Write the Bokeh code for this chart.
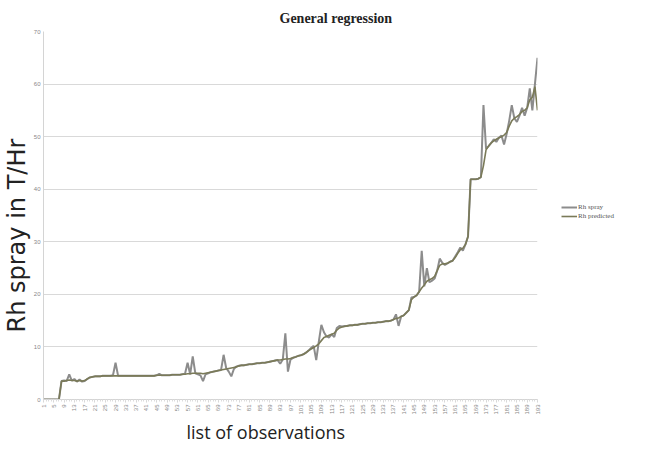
from bokeh.plotting import figure
from bokeh.models import Range1d, FixedTicker, Legend, LegendItem, ColumnDataSource, Title
from bokeh.embed import file_html
from bokeh.resources import INLINE

# ---- data ----
observations = list(range(1, 194))
x_tick_labels = list(range(1, 194, 4))
y_ticks = [0, 10, 20, 30, 40, 50, 60, 70]

rh_spray = [
    0, 0, 0, 0, 0, 0, 0,
    3.5, 3.6, 3.5, 4.8, 3.6, 3.9, 3.4, 3.8, 3.4, 3.5, 3.9, 4.2, 4.3,
    4.4, 4.4, 4.4, 4.5, 4.5, 4.5, 4.5, 4.6, 7.0, 4.5,
    4.5, 4.5, 4.5, 4.5, 4.5, 4.5, 4.5, 4.5, 4.5, 4.5,
    4.5, 4.5, 4.5, 4.5, 4.6, 4.9, 4.6, 4.6, 4.6, 4.6,
    4.7, 4.7, 4.7, 4.7, 4.8, 4.9, 7.0, 4.8, 8.2, 5.0,
    4.8, 4.6, 3.5, 4.8, 5.0, 5.2, 5.3, 5.4, 5.5, 5.6,
    8.5, 6.0, 5.3, 4.4, 5.8, 6.3, 6.4, 6.5, 6.5, 6.6,
    6.7, 6.7, 6.8, 6.9, 6.9, 7.0, 7.0, 7.1, 7.2, 7.3,
    7.4, 7.5, 6.8, 7.6, 12.6, 5.3, 7.6, 7.9, 8.1, 8.3,
    8.4, 8.6, 8.9, 9.3, 9.8, 10.2, 7.5, 11.0, 14.2, 12.8,
    12.0, 11.8, 12.4, 11.9, 13.6, 14.0, 13.9, 14.0, 14.0, 14.1,
    14.1, 14.2, 14.2, 14.3, 14.4, 14.4, 14.5, 14.5, 14.6, 14.6,
    14.7, 14.7, 14.8, 14.9, 14.9, 15.0, 15.2, 16.2, 14.0, 15.8,
    16.0, 16.5, 17.0, 19.4, 19.5, 19.8, 20.5, 28.3, 21.5, 25.0,
    22.3, 22.6, 23.0, 24.5, 26.8, 26.0, 25.6, 25.9, 26.2, 26.4,
    27.2, 28.0, 28.9, 28.3, 29.5, 31.0, 41.9, 41.9, 41.9, 42.0,
    42.3, 56.0, 47.7, 48.2, 48.8, 49.5, 49.0, 49.8, 50.2, 48.5,
    50.5, 53.0, 56.0, 53.5, 52.8, 54.0, 55.5, 54.0, 55.5, 59.2,
    55.0, 60.0, 65.0,
]

rh_predicted = [
    0, 0, 0, 0, 0, 0, 0,
    3.5, 3.5, 3.6, 3.7, 3.6, 3.6, 3.5, 3.6, 3.5, 3.6, 3.9, 4.2, 4.3,
    4.4, 4.4, 4.4, 4.5, 4.5, 4.5, 4.5, 4.5, 4.5, 4.5,
    4.5, 4.5, 4.5, 4.5, 4.5, 4.5, 4.5, 4.5, 4.5, 4.5,
    4.5, 4.5, 4.5, 4.5, 4.6, 4.6, 4.6, 4.6, 4.6, 4.6,
    4.7, 4.7, 4.7, 4.7, 4.8, 4.8, 4.9, 4.9, 5.0, 5.0,
    5.0, 5.0, 4.9, 5.0, 5.1, 5.2, 5.3, 5.4, 5.5, 5.6,
    5.7, 5.8, 5.9, 6.0, 6.1, 6.2, 6.4, 6.5, 6.5, 6.6,
    6.7, 6.7, 6.8, 6.9, 6.9, 7.0, 7.0, 7.1, 7.2, 7.3,
    7.4, 7.5, 7.5, 7.6, 7.7, 7.7, 7.8, 8.0, 8.1, 8.3,
    8.4, 8.6, 8.9, 9.3, 9.6, 9.9, 10.2, 10.6, 11.2, 11.8,
    12.0, 12.2, 12.4, 12.6, 13.2, 13.6, 13.8, 13.9, 14.0, 14.1,
    14.1, 14.2, 14.2, 14.3, 14.4, 14.4, 14.5, 14.5, 14.6, 14.6,
    14.7, 14.7, 14.8, 14.9, 14.9, 15.0, 15.2, 15.4, 15.5, 15.8,
    16.0, 16.5, 17.0, 19.0, 19.5, 19.8, 20.5, 21.2, 21.8, 22.5,
    22.8, 23.0, 23.4, 24.5, 25.5, 25.8, 25.8, 25.9, 26.2, 26.4,
    27.0, 27.8, 28.5, 28.8, 29.5, 31.0, 41.9, 41.9, 41.9, 42.0,
    42.3, 44.5, 47.5, 48.2, 48.8, 49.2, 49.5, 49.8, 50.0, 50.3,
    50.8, 52.0, 53.0, 53.5, 53.8, 54.2, 54.8, 55.0, 55.5, 57.0,
    57.5, 59.5, 55.0,
]

series_names = ["Rh spray", "Rh predicted"]

source = ColumnDataSource(data=dict(x=observations, spray=rh_spray, pred=rh_predicted))

p = figure(frame_width=494, frame_height=368, output_backend="svg", toolbar_location=None,
           x_range=Range1d(1, len(observations)), y_range=Range1d(0, 70),
           min_border_left=39, min_border_right=105, min_border_top=31, min_border_bottom=0)

p.outline_line_color = None
p.background_fill_color = "white"

# title
p.title.text = "General regression"
p.title.text_font = "Liberation Serif"
p.title.text_font_size = "14px"
p.title.text_font_style = "bold"
p.title.text_color = "#222222"
p.title.align = "left"
p.title.offset = 236
p.title.standoff = 11

# lines
r_spray = p.line("x", "spray", source=source, line_color="#8c8c8c", line_width=2)
r_pred = p.line("x", "pred", source=source, line_color="#7a7a58", line_width=1.6)

# y axis
p.yaxis.ticker = FixedTicker(ticks=y_ticks)
p.yaxis.major_label_text_font_size = "6px"
p.yaxis.major_label_text_color = "#888888"
p.yaxis.major_label_standoff = 3
p.yaxis.axis_line_color = "#d4d4d4"
p.yaxis.major_tick_line_color = None
p.yaxis.major_tick_out = 0
p.yaxis.major_tick_in = 0
p.yaxis.minor_tick_line_color = None
p.yaxis.minor_tick_out = 0
p.yaxis.minor_tick_in = 0

ylab = Title(text="Rh spray in T/Hr", align="left", offset=67, standoff=0,
             text_font="DejaVu Sans", text_font_size="24px", text_font_style="normal",
             text_color="#222222")
p.add_layout(ylab, "left")

# x axis
p.xaxis.ticker = FixedTicker(ticks=x_tick_labels, minor_ticks=observations)
p.xaxis.major_label_orientation = 1.5708
p.xaxis.major_label_text_font_size = "6px"
p.xaxis.major_label_text_color = "#888888"
p.xaxis.major_label_standoff = 2
p.xaxis.axis_line_color = "#d4d4d4"
p.xaxis.major_tick_line_color = "#d4d4d4"
p.xaxis.major_tick_out = 3
p.xaxis.major_tick_in = 0
p.xaxis.minor_tick_line_color = "#dcdcdc"
p.xaxis.minor_tick_out = 2
p.xaxis.minor_tick_in = 0

xlab = Title(text="list of observations", align="left", offset=143, standoff=0,
             text_font="Open Sans", text_font_size="18px", text_font_style="normal",
             text_color="#222222")
p.add_layout(xlab, "below")

# grid
p.xgrid.grid_line_color = None
p.ygrid.grid_line_color = "#d9d9d9"
p.ygrid.grid_line_width = 1

# legend to the right of the plot area
legend = Legend(items=[LegendItem(label=series_names[0], renderers=[r_spray]),
                       LegendItem(label=series_names[1], renderers=[r_pred])],
                location=(24, 179), orientation="vertical")
legend.label_text_font = "Liberation Serif"
legend.label_text_font_size = "7px"
legend.label_text_color = "#555555"
legend.glyph_width = 16
legend.glyph_height = 8
legend.label_standoff = 1
legend.spacing = 1
legend.padding = 0
legend.margin = 0
legend.border_line_color = None
legend.background_fill_alpha = 0
p.add_layout(legend, "right")

open("out.html", "w").write(file_html(p, INLINE))
